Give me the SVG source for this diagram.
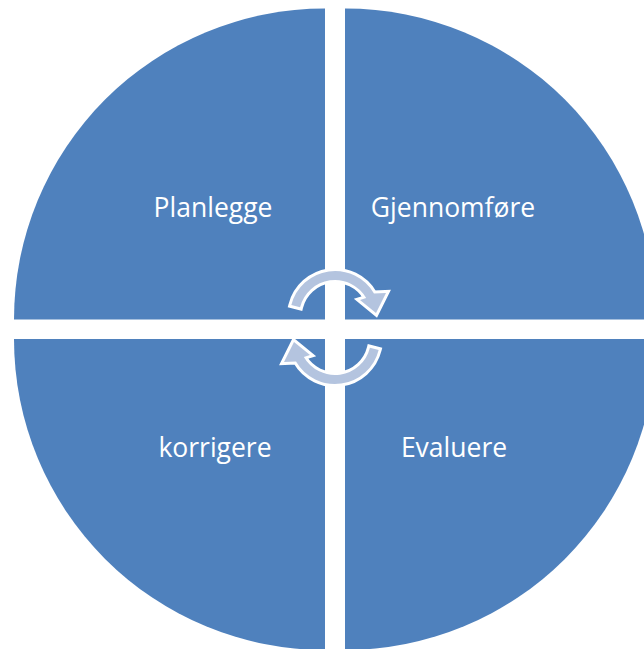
<svg xmlns="http://www.w3.org/2000/svg" width="644" height="649" viewBox="0 0 644 649">
  <style>
    .quad { fill: #4F81BD; }
    .lbl { font-family: "Open Sans", "Liberation Sans", sans-serif; font-size: 26.5px; fill: #FFFFFF; text-anchor: middle; }
    .arr { fill: #B4C4DF; stroke: #FFFFFF; stroke-width: 6; stroke-linejoin: miter; paint-order: stroke; }
  </style>
  <defs>
    <path id="cyc" d="M291.34,305.11 A45,45 0 0 1 373.97,293.5 L386,293 L376,313 L360,300 L366.18,298 A36,36 0 0 0 300.07,307.29 Z"/>
  </defs>
  <rect width="644" height="649" fill="#FFFFFF"/>
  <g id="planlegge">
    <path class="quad" d="M325,319.5 L14,319.5 A311,311 0 0 1 325,8.5 Z"/>
    <text class="lbl" x="213" y="217">Planlegge</text>
  </g>
  <g id="gjennomfore">
    <path class="quad" d="M345,319.5 L345,8.5 A311,311 0 0 1 656,319.5 Z"/>
    <text class="lbl" x="453" y="217">Gjennomføre</text>
  </g>
  <g id="korrigere">
    <path class="quad" d="M325,339 L325,650 A311,311 0 0 1 14,339 Z"/>
    <text class="lbl" x="215" y="457">korrigere</text>
  </g>
  <g id="evaluere">
    <path class="quad" d="M345,339 L656,339 A311,311 0 0 1 345,650 Z"/>
    <text class="lbl" x="454" y="457">Evaluere</text>
  </g>
  <g id="connectors">
    <use href="#cyc" class="arr"/>
    <use href="#cyc" class="arr" transform="rotate(180 335 327.5)"/>
  </g>
</svg>
